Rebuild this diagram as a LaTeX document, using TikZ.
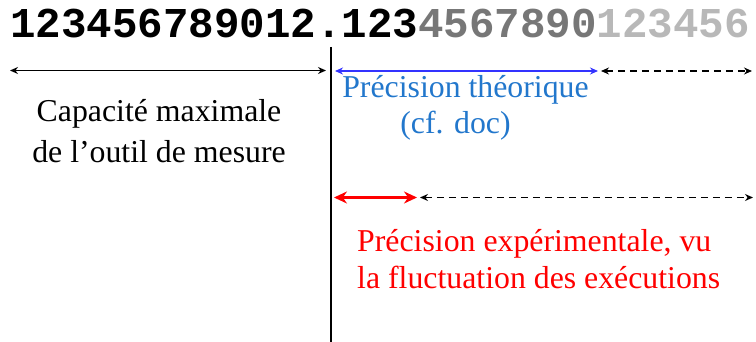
\documentclass[tikz,border=0pt]{standalone}
\usepackage{fontspec}
\setmainfont{Liberation Serif}
\newfontfamily\monofam{Liberation Mono}
\usetikzlibrary{arrows.meta}
\definecolor{midgray}{HTML}{777777}
\definecolor{lightgray2}{HTML}{B8B8B8}
\definecolor{arrowblue}{HTML}{3333FF}
\definecolor{textblue}{HTML}{2277CC}
\definecolor{pured}{HTML}{FF0000}
\tikzset{
  lbl/.style={inner sep=0pt, font=\fontsize{31.8}{36}\selectfont},
  dims/.style={line width=1.6pt, {Stealth[length=8pt,width=7pt]}-{Stealth[length=8pt,width=7pt]}},
  dashdim/.style={line width=1.6pt, dash pattern=on 7pt off 5pt, {Stealth[length=8pt,width=7pt]}-{Stealth[length=8pt,width=7pt]}},
}
\begin{document}
\begin{tikzpicture}[x=1pt,y=-1pt]
\useasboundingbox (0,0) rectangle (756,342);
\node[inner sep=0pt, anchor=base west, font=\fontsize{42.5}{42.5}\selectfont\monofam\bfseries] (num) at (10,38)
  {123456789012.123\textcolor{midgray}{4567890}\textcolor{lightgray2}{123456}};
% vertical separator
\coordinate (vt) at (331,47);
\coordinate (vb) at (331,342);
\draw[line width=2.6pt] (vt) -- (vb);
% top row arrows
\coordinate (a1) at (10,70.5);
\coordinate (a2) at (326,70.5);
\coordinate (b1) at (335,71);
\coordinate (b2) at (598,71);
\coordinate (c1) at (601,71);
\coordinate (c2) at (752,71);
\draw[dims] (a1) -- (a2);
\draw[dims, arrowblue, line width=2.6pt] (b1) -- (b2);
\draw[dashdim] (c1) -- (c2);
% second row arrows
\coordinate (d1) at (334,197.5);
\coordinate (d2) at (417,197.5);
\coordinate (e1) at (420,197.5);
\coordinate (e2) at (753,197.5);
\draw[pured, line width=3.6pt, {Stealth[length=13pt,width=12pt]}-{Stealth[length=13pt,width=12pt]}] (d1) -- (d2);
\draw[dashdim] (e1) -- (e2);
% labels
\node[lbl, anchor=base] (cap1) at (159,122) {Capacité maximale};
\node[lbl, anchor=base] (cap2) at (159,163) {de l’outil de mesure};
\node[lbl, anchor=base, text=textblue] (th1) at (465.5,98) {Précision théorique};
\node[lbl, anchor=base, text=textblue] (th2) at (455.5,134) {(cf. doc)};
\node[lbl, anchor=base west, text=pured] (ex1) at (357,252) {Précision expérimentale, vu};
\node[lbl, anchor=base west, text=pured] (ex2) at (357,288) {la fluctuation des exécutions};
\end{tikzpicture}
\end{document}
